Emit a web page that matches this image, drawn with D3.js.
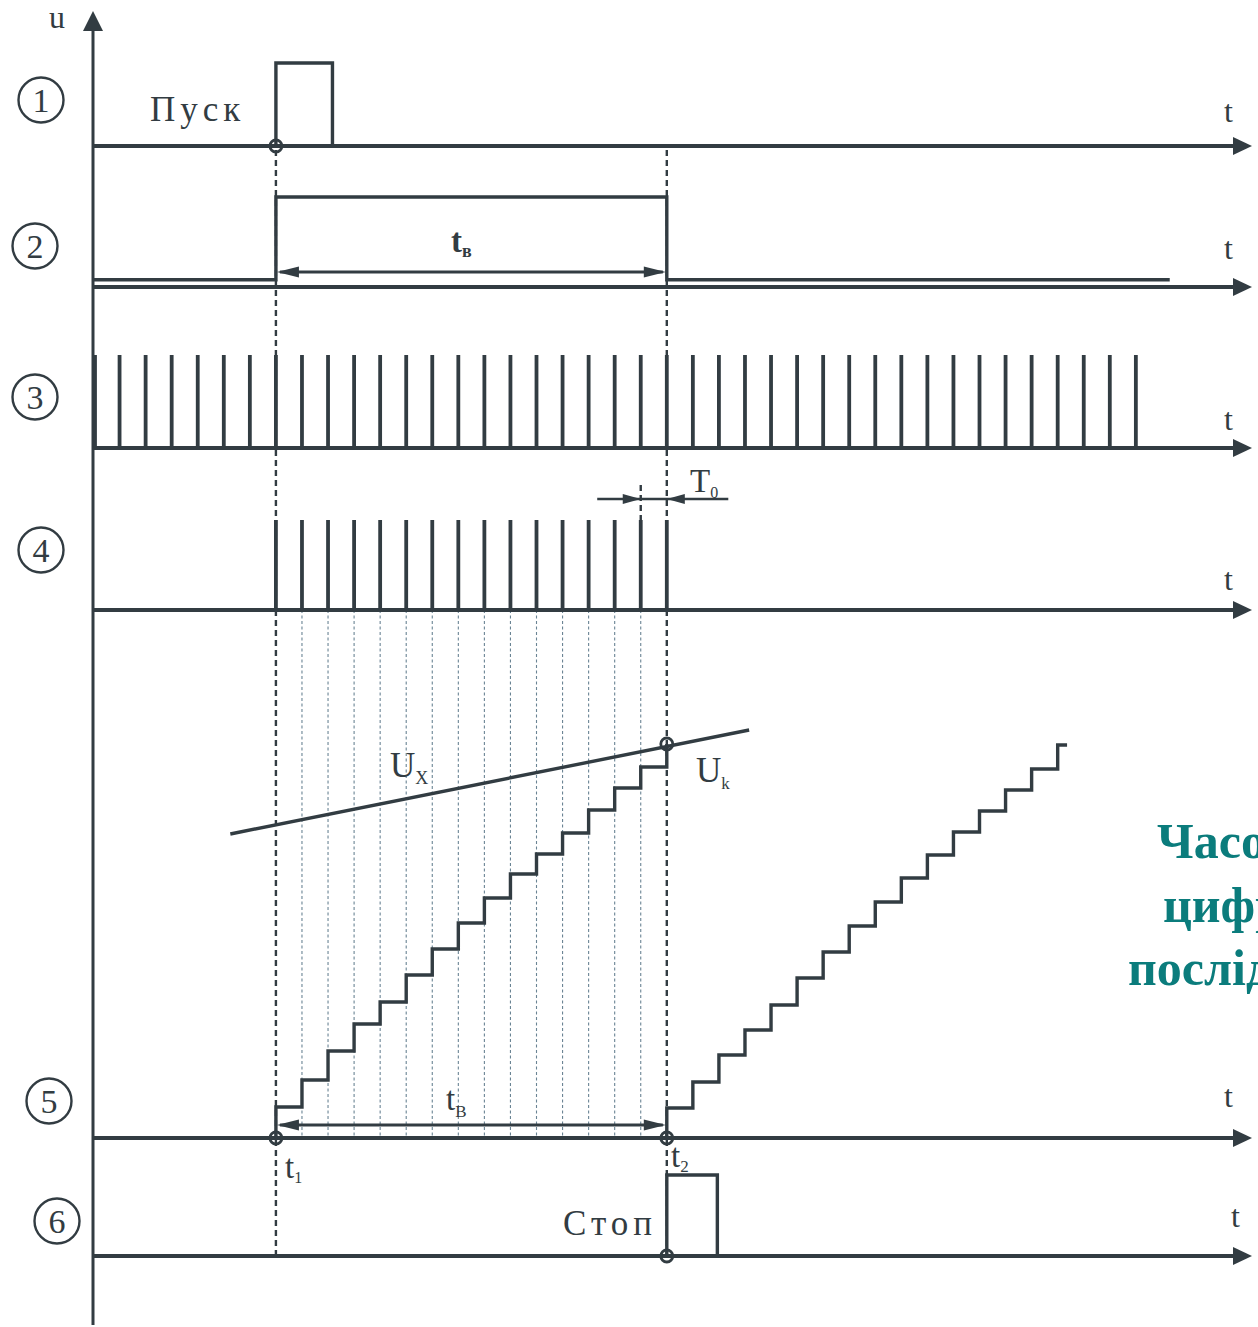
<!DOCTYPE html>
<html>
<head>
<meta charset="utf-8">
<script src="https://cdn.jsdelivr.net/npm/d3@7"></script>
<style>
  html, body { margin: 0; padding: 0; background: #fff; overflow: hidden; }
  svg { display: block; }
  text { font-family: "Liberation Serif", "DejaVu Serif", serif; fill: #323c42; }
</style>
</head>
<body>
<svg id="chart" width="1258" height="1327"></svg>
<script>
// ---- Data (time in clock periods T0, voltages in relative units) ----
const rowLabels = ["1", "2", "3", "4", "5", "6"];
const clockPulses = [0, 1, 2, 3, 4, 5, 6, 7, 8, 9, 10, 11, 12, 13, 14, 15, 16, 17, 18, 19, 20,
                     21, 22, 23, 24, 25, 26, 27, 28, 29, 30, 31, 32, 33, 34, 35, 36, 37, 38, 39, 40];
const gatedPulses = [7, 8, 9, 10, 11, 12, 13, 14, 15, 16, 17, 18, 19, 20, 21, 22];
const countTicks = [8, 9, 10, 11, 12, 13, 14, 15, 16, 17, 18, 19, 20, 21];
const tStart = 7;          // t1, "Пуск"
const tStop = 22;          // t2, "Стоп"
const startPulseEnd = 9.17;
const stopPulseEnd = 23.94;
const gateLowEnd = 41.3;
const t0Span = [19.33, 24.36];
// staircase (ramp) levels, one per clock step
const ramp1Levels = [31, 58, 87, 114, 136, 163, 189, 215, 240, 264, 284, 305, 328, 350, 371, 394];
const ramp2Levels = [30, 56, 83, 108, 133, 160, 186, 212, 236, 260, 283, 306, 327, 348, 369, 393];
const ramp2End = 37.36;
// measured voltage Ux (linear)
const uxLine = [{ t: 5.25, u: 304 }, { t: 25.16, u: 408 }];
const ukLevel = 394;

// ---- Layout ----
const ink = "#323c42";
const svg = d3.select("#chart");
const x = d3.scaleLinear().domain([0, 44.38]).range([93.5, 1250]);
const axisEnd = 1252;
const base = [146, 287, 448, 610, 1138, 1256];
const amp = (row, h) => d3.scaleLinear().domain([0, 1]).range([base[row], base[row] - h]);
const y1 = amp(0, 83), y2 = amp(1, 90), y3 = amp(2, 93), y4 = amp(3, 90), y6 = amp(5, 81);
const y5 = d3.scaleLinear().domain([0, 400]).range([base[4], base[4] - 400]);

function arrowHead(g, tipX, tipY, dir, len, half) {
  let pts;
  if (dir === "r") pts = [[tipX, tipY], [tipX - len, tipY - half], [tipX - len, tipY + half]];
  else if (dir === "l") pts = [[tipX, tipY], [tipX + len, tipY - half], [tipX + len, tipY + half]];
  else pts = [[tipX, tipY], [tipX - half, tipY + len], [tipX + half, tipY + len]];
  g.append("polygon").attr("points", pts.map(p => p.join(",")).join(" ")).attr("fill", ink);
}

// ---- thin dotted count lines ----
const gGrid = svg.append("g");
gGrid.selectAll("line").data(countTicks).join("line")
  .attr("x1", d => x(d)).attr("x2", d => x(d))
  .attr("y1", base[3]).attr("y2", base[4])
  .attr("stroke", "#6a8494").attr("stroke-width", 1.1).attr("stroke-dasharray", "3,2.5");

// ---- dashed markers at t1, t2 ----
const gDash = svg.append("g").attr("stroke", ink).attr("stroke-width", 2.4).attr("stroke-dasharray", "6,4");
[tStart, tStop].forEach(t => {
  gDash.append("line").attr("x1", x(t)).attr("x2", x(t)).attr("y1", base[0] + 4).attr("y2", base[5]);
});
gDash.append("line").attr("x1", x(21)).attr("x2", x(21)).attr("y1", 485).attr("y2", base[3]);

// ---- axes ----
const gAx = svg.append("g");
gAx.append("line").attr("x1", 93).attr("x2", 93).attr("y1", 1325).attr("y2", 28)
  .attr("stroke", ink).attr("stroke-width", 3);
arrowHead(gAx, 93, 11, "u", 20, 10);
gAx.append("text").attr("x", 49).attr("y", 28).attr("font-size", 32).text("u");
base.forEach(b => {
  gAx.append("line").attr("x1", 93).attr("x2", axisEnd - 14).attr("y1", b).attr("y2", b)
    .attr("stroke", ink).attr("stroke-width", 4);
  arrowHead(gAx, axisEnd, b, "r", 19, 9);
});
const tLabelPos = [[1224, 122], [1224, 259], [1224, 430], [1224, 590], [1224, 1107], [1231, 1227]];
tLabelPos.forEach(p => gAx.append("text").attr("x", p[0]).attr("y", p[1]).attr("font-size", 32).text("t"));

// circled row numbers
const circlePos = [[41, 100], [35, 246], [35, 397], [41, 550], [49, 1101], [57, 1221]];
const gNum = svg.append("g");
rowLabels.forEach((lab, i) => {
  const [cx, cy] = circlePos[i];
  gNum.append("circle").attr("cx", cx).attr("cy", cy).attr("r", 22.5)
    .attr("fill", "none").attr("stroke", ink).attr("stroke-width", 2.4);
  gNum.append("text").attr("x", cx).attr("y", cy + 12).attr("text-anchor", "middle")
    .attr("font-size", 34).text(lab);
});

const sig = svg.append("g").attr("fill", "none").attr("stroke", ink).attr("stroke-width", 3.4)
  .attr("stroke-linejoin", "miter");
const line = d3.line();

// ---- row 1: start pulse ----
sig.append("path").attr("d", line([
  [x(tStart), y1(0)], [x(tStart), y1(1)], [x(startPulseEnd), y1(1)], [x(startPulseEnd), y1(0)]
]));
svg.append("text").attr("x", 150).attr("y", 121).attr("font-size", 35)
  .attr("letter-spacing", 5).text("Пуск");

// ---- row 2: gate ----
sig.append("path").attr("d", line([
  [x(0), y2(0.08)], [x(tStart), y2(0.08)], [x(tStart), y2(1)], [x(tStop), y2(1)],
  [x(tStop), y2(0.08)], [x(gateLowEnd), y2(0.08)]
]));
function dimArrow(yPos, ta, tb) {
  const g = svg.append("g");
  g.append("line").attr("x1", x(ta) + 4).attr("x2", x(tb) - 4).attr("y1", yPos).attr("y2", yPos)
    .attr("stroke", ink).attr("stroke-width", 3);
  arrowHead(g, x(ta) + 1, yPos, "l", 22, 5.5);
  arrowHead(g, x(tb) - 1, yPos, "r", 22, 5.5);
}
dimArrow(272, tStart, tStop);
function subLabel(px, py, main, sub, size, subSize, dx, dy, weight) {
  const t = svg.append("text").attr("x", px).attr("y", py).attr("font-size", size);
  if (weight) t.attr("font-weight", weight);
  t.append("tspan").text(main);
  t.append("tspan").attr("font-size", subSize).attr("dx", dx).attr("dy", dy).text(sub);
}
subLabel(451, 252, "t", "в", 33, 18, 0, 5, "bold");

// ---- row 3: clock pulses ----
svg.append("g").selectAll("line").data(clockPulses).join("line")
  .attr("x1", d => x(d) + (d === 0 ? 1.5 : 0)).attr("x2", d => x(d) + (d === 0 ? 1.5 : 0))
  .attr("y1", y3(1)).attr("y2", y3(0))
  .attr("stroke", ink).attr("stroke-width", 3.8);

// ---- row 4: gated pulses ----
svg.append("g").selectAll("line").data(gatedPulses).join("line")
  .attr("x1", d => x(d)).attr("x2", d => x(d))
  .attr("y1", y4(1)).attr("y2", y4(0))
  .attr("stroke", ink).attr("stroke-width", 3.8);

// T0 dimension
const gT0 = svg.append("g");
gT0.append("line").attr("x1", x(t0Span[0])).attr("x2", x(t0Span[1])).attr("y1", 499).attr("y2", 499)
  .attr("stroke", ink).attr("stroke-width", 2.4);
arrowHead(gT0, x(21), 499, "r", 18, 5);
arrowHead(gT0, x(22), 499, "l", 18, 5);
subLabel(690, 492, "T", "0", 33, 16, 0, 6);

// ---- row 5: ramps and Ux ----
function rampPoints(t0, levels, tEnd) {
  const pts = [[x(t0), y5(0)]];
  levels.forEach((u, i) => pts.push([x(t0 + i), y5(u)]));
  if (tEnd !== undefined) pts.push([x(tEnd), y5(levels[levels.length - 1])]);
  return pts;
}
const stepLine = d3.line().curve(d3.curveStepAfter);
sig.append("path").attr("d", stepLine(rampPoints(tStart, ramp1Levels)));
sig.append("path").attr("d", stepLine(rampPoints(tStop, ramp2Levels, ramp2End)));
sig.append("path").attr("d", line(uxLine.map(d => [x(d.t), y5(d.u)])));

subLabel(390, 777, "U", "X", 35, 18, 0, 7);
subLabel(696, 782, "U", "k", 35, 17, 0, 7);
dimArrow(1125, tStart, tStop);
subLabel(446, 1110, "t", "В", 33, 17, 0, 7);
subLabel(285, 1178, "t", "1", 33, 16, 0, 5);
subLabel(671, 1167, "t", "2", 33, 17, 0, 5);

// ---- row 6: stop pulse ----
sig.append("path").attr("d", line([
  [x(tStop), y6(0)], [x(tStop), y6(1)], [x(stopPulseEnd), y6(1)], [x(stopPulseEnd), y6(0)]
]));
svg.append("text").attr("x", 563).attr("y", 1235).attr("font-size", 35)
  .attr("letter-spacing", 5).text("Стоп");

// ---- event circles ----
const events = [[tStart, base[0]], [tStart, base[4]], [tStop, base[4]], [tStop, base[5]], [tStop, y5(ukLevel)]];
svg.append("g").selectAll("circle").data(events).join("circle")
  .attr("cx", d => x(d[0])).attr("cy", d => d[1]).attr("r", 6)
  .attr("fill", "none").attr("stroke", ink).attr("stroke-width", 2.8);

// ---- title block ----
const title = svg.append("g");
[["Часові діаграми", 1157, 858], ["цифрового вольтметра", 1163, 922], ["послідовної лічби", 1128, 985]]
  .forEach(([s, px, py]) => {
    title.append("text").attr("x", px).attr("y", py).style("fill", "#0b7c7c")
      .attr("font-weight", "bold").attr("font-size", 50).text(s);
  });
</script>
</body>
</html>
